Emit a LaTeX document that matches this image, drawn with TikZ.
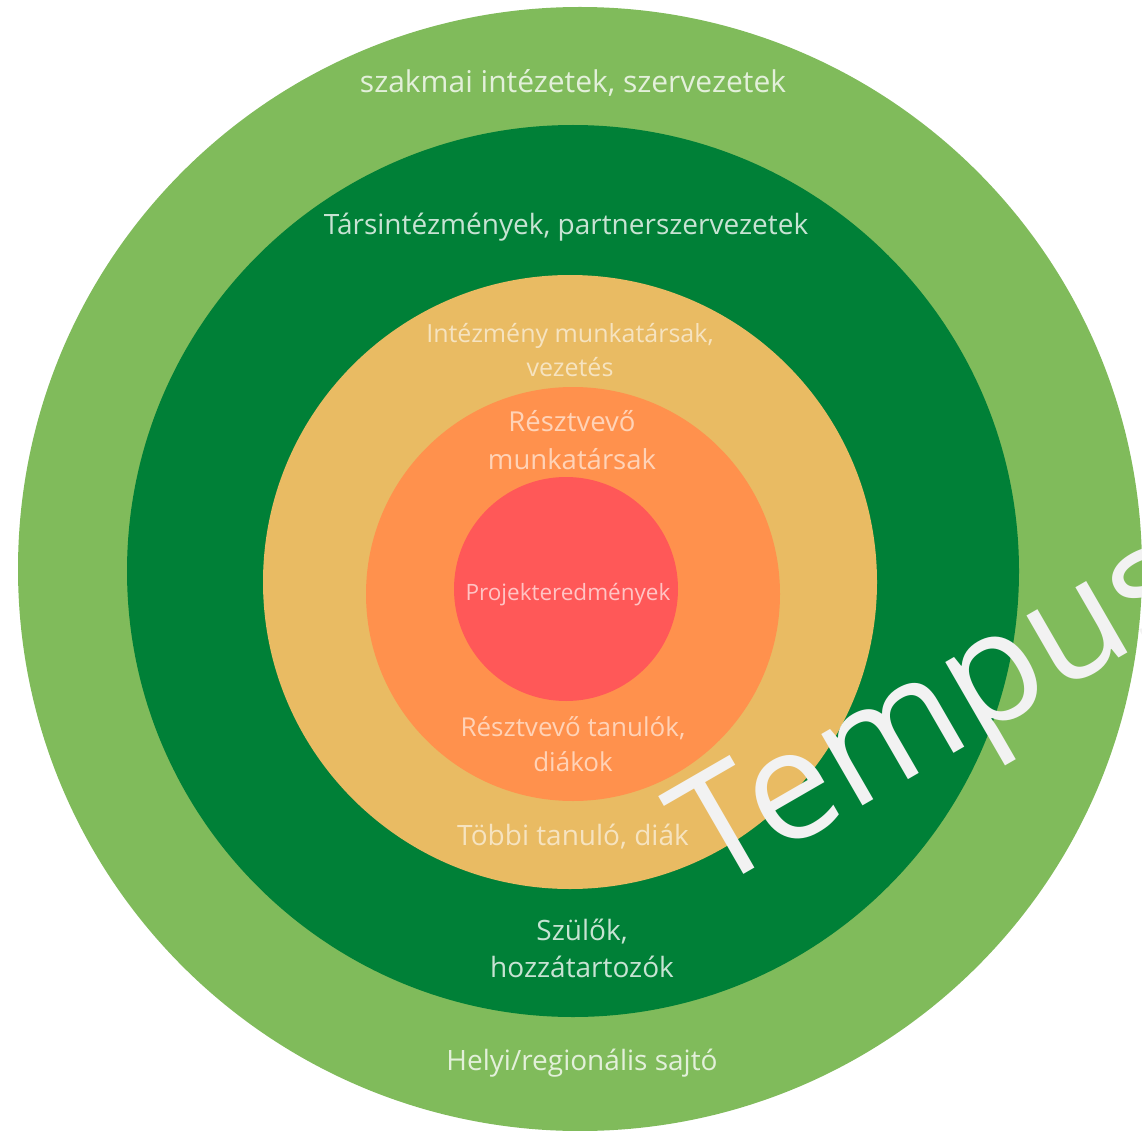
\documentclass[tikz,border=0pt]{standalone}
\usepackage{fontspec}
\setmainfont{Open Sans}
\definecolor{lgreen}{HTML}{80BB5B}
\definecolor{dgreen}{HTML}{008037}
\definecolor{ygold}{HTML}{E9BB63}
\definecolor{orng}{HTML}{FF914D}
\definecolor{rred}{HTML}{FF5858}
\definecolor{wmark}{HTML}{F2F2F2}
\newcommand{\fs}[2]{\fontsize{#1}{#2}\selectfont}
\begin{document}
\begin{tikzpicture}[x=1pt,y=-1pt,
  ring/.style={circle,draw=none,inner sep=0pt,minimum size=#1},
  lbl/.style={text=white,text opacity=0.78,align=center,inner sep=0pt}]
\useasboundingbox (0,0) rectangle (1142,1131);
\begin{scope}
\clip (0,0) rectangle (1142,1131);
\node[ring=1124pt,fill=lgreen] (c1) at (580,569) {};
\node[ring=892pt,fill=dgreen] (c2) at (573,571) {};
\node[ring=614pt,fill=ygold] (c3) at (570,582) {};
\node[ring=414pt,fill=orng] (c4) at (573,594) {};
\node[ring=224pt,fill=rred] (c5) at (566,589) {};
\node[lbl,font=\fs{30}{36}] (t1) at (573,83) {szakmai intézetek, szervezetek};
\node[lbl,font=\fs{28}{36}] (t2) at (566,227) {Társintézmények, partnerszervezetek};
\node[lbl,text opacity=0.6,font=\fs{25}{34}] (t3) at (570,350) {Intézmény munkatársak,\\vezetés};
\node[lbl,text opacity=0.6,font=\fs{27.5}{38}] (t4) at (572,440) {Résztvevő\\munkatársak};
\node[lbl,text opacity=0.65,font=\fs{22.5}{26}] (t5) at (568,595) {Projekteredmények};
\node[lbl,text opacity=0.6,font=\fs{26}{35}] (t6) at (573,744) {Résztvevő tanulók,\\diákok};
\node[lbl,text opacity=0.6,font=\fs{28}{34}] (t7) at (573,837) {Többi tanuló, diák};
\node[lbl,font=\fs{28}{37}] (t8) at (582,948) {Szülők,\\hozzátartozók};
\node[lbl,font=\fs{28}{34}] (t9) at (582,1063) {Helyi/regionális sajtó};
\node[text=wmark,anchor=base west,rotate=30,inner sep=0pt,font=\fs{154}{154}] (wm) at (712,893) {Tempus};
\end{scope}
\end{tikzpicture}
\end{document}
